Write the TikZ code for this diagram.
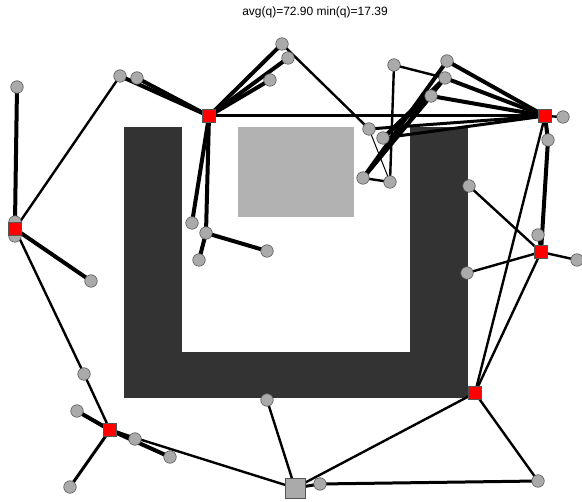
\documentclass[tikz,border=0pt]{standalone}
\usepackage{fontspec}
\setmainfont{Liberation Sans}
\pgfdeclarelayer{obst}
\pgfdeclarelayer{edges}
\pgfsetlayers{obst,edges,main}
\definecolor{wall}{RGB}{51,51,51}
\definecolor{zone}{RGB}{178,178,178}
\definecolor{nodegray}{RGB}{170,170,170}
\definecolor{rim}{RGB}{85,85,85}
\begin{document}
\begin{tikzpicture}[x=1pt,y=-1pt,
  rnode/.style={draw=rim, fill=red, minimum size=12.5pt, inner sep=0pt, line width=0.6pt},
  gnode/.style={circle, draw=rim, fill=nodegray, minimum size=12.5pt, inner sep=0pt, line width=0.6pt},
  basenode/.style={draw=rim, fill=nodegray, minimum size=20pt, inner sep=0pt, line width=0.6pt},
  ethin/.style={line width=2.4pt},
  emid/.style={line width=3pt},
  ethick/.style={line width=4pt},
  ehair/.style={line width=1pt}]
\useasboundingbox (0,0) rectangle (582,502);
\node[font=\fontsize{12}{14}\selectfont] (title) at (315,12) {avg(q)=72.90 min(q)=17.39};
% nodes
\node[gnode] (ga) at (120,76) {};
\node[gnode] (gb) at (137,78) {};
\node[gnode] (gc) at (282,44) {};
\node[gnode] (gd) at (288,58) {};
\node[gnode] (ge) at (270,80) {};
\node[gnode] (gf) at (394,65) {};
\node[gnode] (gg) at (447,61) {};
\node[gnode] (gh) at (445,78) {};
\node[gnode] (gi) at (431,96) {};
\node[gnode] (gj) at (563,117) {};
\node[gnode] (gk) at (548,140) {};
\node[gnode] (gl) at (369,129) {};
\node[gnode] (glb) at (383,138) {};
\node[gnode] (gm) at (363,178) {};
\node[gnode] (gn) at (390,182) {};
\node[gnode] (go) at (469,186) {};
\node[gnode] (gp) at (538,235) {};
\node[gnode] (gq) at (467,273) {};
\node[gnode] (gr) at (577,260) {};
\node[gnode] (gs) at (17,87) {};
\node[gnode] (gta) at (15,222) {};
\node[gnode] (gtb) at (15,236) {};
\node[gnode] (gu) at (91,281) {};
\node[gnode] (gv) at (84,374) {};
\node[gnode] (gw) at (77,411) {};
\node[gnode] (gx) at (70,487) {};
\node[gnode] (gy) at (135,439) {};
\node[gnode] (gz) at (170,457) {};
\node[gnode] (ha) at (192,223) {};
\node[gnode] (hb) at (206,233) {};
\node[gnode] (hc) at (267,251) {};
\node[gnode] (hd) at (199,260) {};
\node[gnode] (gaa) at (267,400) {};
\node[gnode] (gbb) at (320,484) {};
\node[gnode] (gcc) at (538,481) {};
\node[rnode] (R1) at (209,116) {};
\node[rnode] (R2) at (545,116) {};
\node[rnode] (R3) at (15,229) {};
\node[rnode] (R4) at (541,252) {};
\node[rnode] (R5) at (475,393) {};
\node[rnode] (R6) at (110,430) {};
\node[basenode] (B) at (295,488) {};
% obstacles
\begin{pgfonlayer}{obst}
\fill[wall] (124,127) rectangle (182,398);
\fill[wall] (124,352) rectangle (468,398);
\fill[wall] (410,127) rectangle (468,398);
\fill[zone] (238,127) rectangle (354,217);
\end{pgfonlayer}
% edges
\begin{pgfonlayer}{edges}
\draw[ethick] (R1.center) -- (ga.center);
\draw[ethick] (R1.center) -- (gb.center);
\draw[ethick] (R1.center) -- (gc.center);
\draw[ethick] (R1.center) -- (gd.center);
\draw[ethick] (R1.center) -- (ge.center);
\draw[emid] (R1.center) -- (R2.center);
\draw[ethick] (R1.center) -- (ha.center);
\draw[ethick] (R1.center) -- (hb.center);
\draw[ethick] (hb.center) -- (hc.center);
\draw[ethick] (hb.center) -- (hd.center);
\draw[ethick] (gs.center) -- (gta.center);
\draw[ethick] (R3.center) -- (gu.center);
\draw[ethin] (ga.center) -- (R3.center);
\draw[ethin] (R3.center) -- (gv.center);
\draw[ethin] (gv.center) -- (R6.center);
\draw[emid] (R6.center) -- (gx.center);
\draw[ethick] (R6.center) -- (gw.center);
\draw[ethick] (R6.center) -- (gy.center);
\draw[ethick] (R6.center) -- (gz.center);
\draw[ethin] (R6.center) -- (B.center);
\draw[ethin] (gaa.center) -- (B.center);
\draw[ethin] (R5.center) -- (B.center);
\draw[emid] (B.center) -- (gbb.center);
\draw[emid] (gbb.center) -- (gcc.center);
\draw[ethin] (R5.center) -- (gcc.center);
\draw[ethin] (R2.center) -- (R5.center);
\draw[ethin] (R4.center) -- (R5.center);
\draw[ethin] (go.center) -- (R4.center);
\draw[ethin] (gq.center) -- (R4.center);
\draw[ethin] (R4.center) -- (gr.center);
\draw[ethin] (R4.center) -- (gp.center);
\draw[ethin] (R2.center) -- (gj.center);
\draw[ethick] (R2.center) -- (gk.center);
\draw[ethick] (gk.center) -- (R4.center);
\draw[ethick] (R2.center) -- (gg.center);
\draw[ethick] (R2.center) -- (gh.center);
\draw[ethick] (R2.center) -- (gi.center);
\draw[emid] (R2.center) -- (gl.center);
\draw[emid] (R2.center) -- (glb.center);
\draw[ethick] (gg.center) -- (gm.center);
\draw[ethick] (gh.center) -- (gm.center);
\draw[ethick] (gi.center) -- (gm.center);
\draw[ethick] (gh.center) -- (glb.center);
\draw[ethick] (gi.center) -- (glb.center);
\draw[ethin] (gc.center) -- (gl.center);
\draw[ethin] (gf.center) -- (gh.center);
\draw[ethin] (gf.center) -- (gn.center);
\draw[ethin] (gm.center) -- (gn.center);
\draw[ehair] (gl.center) -- (gn.center);
\end{pgfonlayer}
\end{tikzpicture}
\end{document}
